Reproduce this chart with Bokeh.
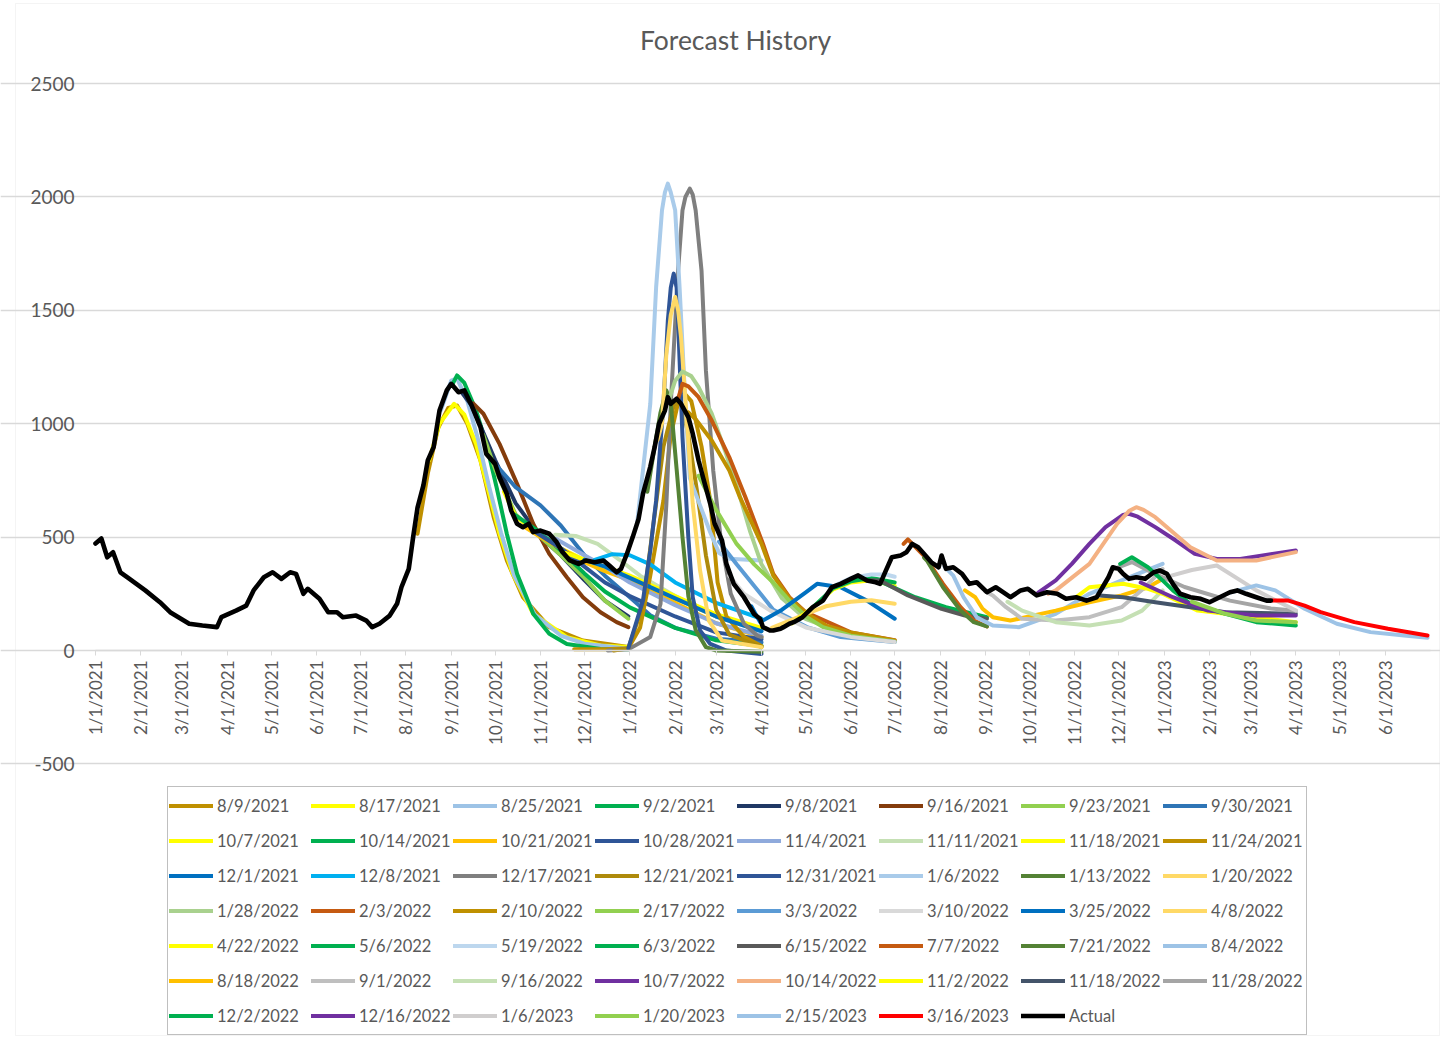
import math
import pandas as pd
from bokeh.plotting import figure
from bokeh.models import (Range1d, FixedTicker, Legend, LegendItem, LinearAxis, Grid,
                          Label, BoxAnnotation)
from bokeh.embed import file_html
from bokeh.resources import INLINE

BASE = pd.Timestamp("2021-01-01")

tick_dates = ["2021-01-01", "2021-02-01", "2021-03-01", "2021-04-01", "2021-05-01", "2021-06-01",
              "2021-07-01", "2021-08-01", "2021-09-01", "2021-10-01", "2021-11-01", "2021-12-01",
              "2022-01-01", "2022-02-01", "2022-03-01", "2022-04-01", "2022-05-01", "2022-06-01",
              "2022-07-01", "2022-08-01", "2022-09-01", "2022-10-01", "2022-11-01", "2022-12-01",
              "2023-01-01", "2023-02-01", "2023-03-01", "2023-04-01", "2023-05-01", "2023-06-01"]
tick_labels = ["1/1/2021", "2/1/2021", "3/1/2021", "4/1/2021", "5/1/2021", "6/1/2021",
               "7/1/2021", "8/1/2021", "9/1/2021", "10/1/2021", "11/1/2021", "12/1/2021",
               "1/1/2022", "2/1/2022", "3/1/2022", "4/1/2022", "5/1/2022", "6/1/2022",
               "7/1/2022", "8/1/2022", "9/1/2022", "10/1/2022", "11/1/2022", "12/1/2022",
               "1/1/2023", "2/1/2023", "3/1/2023", "4/1/2023", "5/1/2023", "6/1/2023"]
y_ticks = [-500, 0, 500, 1000, 1500, 2000, 2500]
y_tick_labels = ["-500", "0", "500", "1000", "1500", "2000", "2500"]

# ---------------- forecasts ----------------
d_210809 = ["2021-08-09", "2021-08-16", "2021-08-23", "2021-08-30", "2021-09-05", "2021-09-12", "2021-09-21",
            "2021-09-30", "2021-10-09", "2021-10-20", "2021-11-07", "2021-11-30", "2021-12-31"]
v_210809 = [515, 780, 980, 1070, 1080, 1000, 838, 588, 397, 235, 103, 44, 15]

d_210817 = ["2021-08-17", "2021-08-24", "2021-09-03", "2021-09-10", "2021-09-18", "2021-09-27", "2021-10-04",
            "2021-10-13", "2021-10-27", "2021-11-19", "2021-12-12", "2021-12-31"]
v_210817 = [840, 1000, 1088, 1040, 911, 691, 515, 338, 162, 59, 22, 15]

d_210825 = ["2021-08-25", "2021-09-01", "2021-09-05", "2021-09-12", "2021-09-19", "2021-09-27", "2021-10-05",
            "2021-10-14", "2021-10-28", "2021-11-15", "2021-12-01", "2021-12-31"]
v_210825 = [1060, 1190, 1200, 1100, 940, 720, 520, 330, 160, 65, 30, 8]

d_210902 = ["2021-09-02", "2021-09-05", "2021-09-10", "2021-09-18", "2021-09-25", "2021-10-02", "2021-10-09",
            "2021-10-16", "2021-10-27", "2021-11-07", "2021-11-19", "2021-12-12", "2021-12-31"]
v_210902 = [1176, 1213, 1180, 1058, 911, 720, 515, 338, 162, 74, 29, 7, 5]

d_210908 = ["2021-09-08", "2021-09-15", "2021-10-01", "2021-10-15", "2021-11-01", "2021-11-15", "2021-12-01",
            "2021-12-15", "2021-12-31"]
v_210908 = [1140, 1080, 840, 650, 500, 420, 310, 220, 150]

d_210916 = ["2021-09-16", "2021-09-23", "2021-10-04", "2021-10-16", "2021-10-27", "2021-11-07", "2021-11-19",
            "2021-11-30", "2021-12-12", "2021-12-23", "2021-12-31"]
v_210916 = [1090, 1044, 911, 735, 559, 426, 323, 235, 169, 125, 103]

d_210923 = ["2021-09-23", "2021-10-01", "2021-10-15", "2021-11-01", "2021-11-15", "2021-12-01", "2021-12-15",
            "2021-12-31"]
v_210923 = [950, 800, 600, 500, 420, 320, 220, 140]

d_210930 = ["2021-09-30", "2021-10-15", "2021-11-01", "2021-11-15", "2021-12-01", "2021-12-15", "2022-01-01",
            "2022-01-15", "2022-02-01", "2022-03-01", "2022-04-01"]
v_210930 = [830, 720, 640, 550, 420, 330, 235, 155, 100, 52, 36]

d_211007 = ["2021-10-07", "2021-10-15", "2021-11-01", "2021-11-15", "2021-12-01", "2021-12-15", "2022-01-01",
            "2022-02-01", "2022-03-01", "2022-04-01"]
v_211007 = [700, 590, 510, 450, 400, 360, 320, 230, 150, 95]

d_211014 = ["2021-10-14", "2021-11-01", "2021-11-15", "2021-12-01", "2021-12-15", "2022-01-01", "2022-02-01",
            "2022-03-01", "2022-04-01"]
v_211014 = [600, 520, 440, 340, 260, 190, 100, 45, 20]

d_211021 = ["2021-10-21", "2021-11-01", "2021-11-15", "2021-12-01", "2021-12-15", "2022-01-01", "2022-02-01",
            "2022-03-01", "2022-04-01"]
v_211021 = [545, 500, 450, 390, 350, 310, 210, 120, 60]

d_211028 = ["2021-10-28", "2021-11-15", "2021-12-01", "2021-12-15", "2022-01-01", "2022-02-01", "2022-03-01",
            "2022-04-01"]
v_211028 = [525, 450, 370, 300, 240, 150, 80, 50]

d_211104 = ["2021-11-04", "2021-11-15", "2021-12-01", "2021-12-15", "2022-01-01", "2022-02-01", "2022-03-01",
            "2022-04-01"]
v_211104 = [520, 480, 420, 370, 300, 200, 120, 65]

d_211111 = ["2021-11-11", "2021-11-25", "2021-12-10", "2021-12-25", "2022-01-08", "2022-02-01", "2022-03-01",
            "2022-04-01"]
v_211111 = [510, 505, 470, 400, 330, 240, 150, 85]

d_211118 = ["2021-11-18", "2021-12-01", "2021-12-15", "2022-01-01", "2022-02-01", "2022-03-01", "2022-04-01"]
v_211118 = [430, 400, 370, 330, 240, 160, 100]

d_211124 = ["2021-11-24", "2021-12-15", "2021-12-31", "2022-01-08", "2022-01-15", "2022-01-24", "2022-01-29",
            "2022-02-05", "2022-02-12", "2022-02-19", "2022-02-25", "2022-03-02", "2022-03-08", "2022-03-20",
            "2022-04-01"]
v_211124 = [5, 5, 10, 100, 330, 662, 950, 1150, 1100, 900, 660, 300, 150, 60, 20]

d_211201 = ["2021-12-01", "2021-12-15", "2022-01-01", "2022-02-01", "2022-03-01", "2022-04-01"]
v_211201 = [400, 370, 320, 230, 150, 85]

d_211208 = ["2021-12-08", "2021-12-20", "2022-01-01", "2022-01-15", "2022-02-01", "2022-03-01", "2022-04-01"]
v_211208 = [400, 425, 420, 380, 300, 210, 140]

d_211217 = ["2021-12-17", "2021-12-31", "2022-01-15", "2022-01-22", "2022-01-26", "2022-01-29", "2022-02-03",
            "2022-02-06", "2022-02-08", "2022-02-11", "2022-02-13", "2022-02-15", "2022-02-19", "2022-02-22",
            "2022-02-27", "2022-03-04", "2022-03-11", "2022-03-20", "2022-03-29", "2022-04-01"]
v_211217 = [0, 5, 60, 206, 647, 1088, 1676, 1941, 2000, 2037, 2010, 1941, 1676, 1235, 794, 500, 250, 118, 66, 59]

d_211221 = ["2021-12-21", "2021-12-31", "2022-01-10", "2022-01-17", "2022-01-24", "2022-01-31", "2022-02-05",
            "2022-02-10", "2022-02-16", "2022-02-22", "2022-03-01", "2022-03-10", "2022-04-01"]
v_211221 = [0, 10, 200, 550, 900, 1080, 1100, 950, 700, 420, 180, 70, 15]

d_211231 = ["2021-12-31", "2022-01-10", "2022-01-15", "2022-01-19", "2022-01-24", "2022-01-27", "2022-01-29",
            "2022-01-31", "2022-02-02", "2022-02-03", "2022-02-06", "2022-02-10", "2022-02-13", "2022-02-18",
            "2022-02-25", "2022-03-08", "2022-04-01"]
v_211231 = [10, 220, 441, 662, 1088, 1456, 1600, 1662, 1600, 1456, 941, 500, 235, 88, 29, 0, -15]

d_220106 = ["2022-01-06", "2022-01-15", "2022-01-19", "2022-01-23", "2022-01-25", "2022-01-27", "2022-01-29",
            "2022-02-01", "2022-02-04", "2022-02-08", "2022-02-11", "2022-02-18", "2022-02-25", "2022-03-03",
            "2022-03-10", "2022-04-01"]
v_220106 = [560, 1088, 1603, 1941, 2020, 2059, 2020, 1941, 1603, 1088, 760, 640, 520, 430, 405, 397]

d_220113 = ["2022-01-13", "2022-01-18", "2022-01-22", "2022-01-26", "2022-01-29", "2022-02-02", "2022-02-06",
            "2022-02-10", "2022-02-15", "2022-02-22", "2022-03-01", "2022-04-01"]
v_220113 = [700, 900, 1050, 1147, 1090, 800, 500, 240, 90, 15, 0, -5]

d_220120 = ["2022-01-20", "2022-01-23", "2022-01-26", "2022-01-29", "2022-02-01", "2022-02-03", "2022-02-05",
            "2022-02-09", "2022-02-13", "2022-02-18", "2022-02-24", "2022-03-05", "2022-04-01"]
v_220120 = [930, 1000, 1309, 1480, 1559, 1500, 1382, 1015, 647, 353, 132, 44, 15]

d_220128 = ["2022-01-28", "2022-02-01", "2022-02-06", "2022-02-12", "2022-02-17", "2022-02-26", "2022-03-07",
            "2022-03-16", "2022-03-24", "2022-04-01", "2022-04-15", "2022-05-01", "2022-06-01", "2022-07-01"]
v_220128 = [1110, 1190, 1230, 1210, 1161, 1044, 882, 706, 529, 380, 230, 140, 65, 38]

d_220203 = ["2022-02-03", "2022-02-06", "2022-02-10", "2022-02-17", "2022-02-26", "2022-03-10", "2022-03-21",
            "2022-04-02", "2022-04-09", "2022-04-20", "2022-05-01", "2022-06-01", "2022-07-01"]
v_220203 = [1110, 1176, 1165, 1117, 1014, 852, 676, 470, 338, 235, 170, 80, 45]

d_220210 = ["2022-02-10", "2022-02-15", "2022-02-26", "2022-03-10", "2022-03-17", "2022-04-01", "2022-04-09",
            "2022-04-20", "2022-05-02", "2022-05-15", "2022-06-01", "2022-07-01"]
v_220210 = [1050, 1020, 926, 794, 680, 470, 330, 230, 162, 110, 80, 44]

d_220217 = ["2022-02-17", "2022-03-01", "2022-03-15", "2022-03-27", "2022-04-09", "2022-04-20", "2022-05-02",
            "2022-05-13", "2022-06-01", "2022-07-01"]
v_220217 = [770, 620, 470, 380, 300, 220, 147, 103, 65, 40]

d_220303 = ["2022-03-03", "2022-03-15", "2022-04-01", "2022-04-09", "2022-05-02", "2022-05-25", "2022-07-01"]
v_220303 = [480, 380, 245, 180, 103, 59, 37]

d_220310 = ["2022-03-10", "2022-03-20", "2022-04-07", "2022-05-02", "2022-06-01", "2022-07-01"]
v_220310 = [330, 250, 176, 100, 60, 37]

d_220325 = ["2022-03-25", "2022-03-31", "2022-04-15", "2022-05-01", "2022-05-09", "2022-05-25", "2022-06-12",
            "2022-07-01"]
v_220325 = [195, 125, 180, 255, 294, 279, 220, 140]

d_220408 = ["2022-04-08", "2022-05-01", "2022-05-15", "2022-06-01", "2022-06-15", "2022-07-01"]
v_220408 = [100, 160, 195, 215, 222, 206]

d_220422 = ["2022-04-22", "2022-05-06", "2022-05-20", "2022-06-01", "2022-06-15", "2022-07-01"]
v_220422 = [120, 190, 270, 300, 310, 285]

d_220506 = ["2022-05-06", "2022-05-20", "2022-06-01", "2022-06-15", "2022-07-01"]
v_220506 = [190, 275, 305, 320, 300]

d_220519 = ["2022-05-19", "2022-06-01", "2022-06-15", "2022-06-25", "2022-07-01"]
v_220519 = [280, 320, 335, 335, 325]

d_220603 = ["2022-06-03", "2022-06-21", "2022-07-15", "2022-08-05", "2022-09-02"]
v_220603 = [320, 305, 235, 191, 147]

d_220615 = ["2022-06-15", "2022-06-21", "2022-07-10", "2022-08-02", "2022-08-18", "2022-09-02"]
v_220615 = [310, 309, 243, 184, 154, 140]

d_220707 = ["2022-07-07", "2022-07-10", "2022-07-22", "2022-08-03", "2022-08-15", "2022-08-24", "2022-09-02"]
v_220707 = [470, 490, 411, 294, 191, 132, 106]

d_220721 = ["2022-07-21", "2022-07-23", "2022-08-03", "2022-08-15", "2022-08-24", "2022-09-02"]
v_220721 = [410, 397, 279, 176, 125, 106]

d_220804 = ["2022-08-04", "2022-08-10", "2022-08-17", "2022-08-26", "2022-09-06", "2022-09-24", "2022-10-19",
            "2022-11-11", "2022-12-03", "2022-12-31"]
v_220804 = [370, 330, 235, 147, 110, 103, 162, 250, 309, 382]

d_220818 = ["2022-08-18", "2022-08-25", "2022-08-30", "2022-09-06", "2022-09-18", "2022-10-19", "2022-11-11",
            "2022-12-03", "2022-12-21", "2022-12-31"]
v_220818 = [265, 235, 184, 147, 132, 176, 213, 243, 279, 315]

d_220901 = ["2022-09-01", "2022-09-06", "2022-09-15", "2022-09-26", "2022-10-19", "2022-11-11", "2022-12-03",
            "2022-12-19", "2022-12-31"]
v_220901 = [260, 243, 191, 140, 132, 147, 191, 279, 360]

d_220916 = ["2022-09-16", "2022-09-26", "2022-10-19", "2022-11-11", "2022-12-03", "2022-12-17", "2022-12-31"]
v_220916 = [215, 176, 125, 110, 132, 176, 265]

d_221007 = ["2022-10-07", "2022-10-19", "2022-10-30", "2022-11-11", "2022-11-22", "2022-12-04", "2022-12-08",
            "2022-12-14", "2022-12-26", "2023-01-09", "2023-01-22", "2023-02-06", "2023-02-22", "2023-03-16",
            "2023-04-01"]
v_221007 = [255, 309, 382, 470, 544, 598, 603, 590, 544, 485, 426, 404, 404, 426, 441]

d_221014 = ["2022-10-14", "2022-10-19", "2022-11-11", "2022-11-30", "2022-12-08", "2022-12-13", "2022-12-18",
            "2022-12-26", "2023-01-19", "2023-02-06", "2023-03-05", "2023-04-01"]
v_221014 = [250, 265, 382, 559, 615, 632, 620, 588, 455, 397, 397, 434]

d_221102 = ["2022-11-02", "2022-11-11", "2022-12-04", "2022-12-21", "2022-12-31", "2023-01-24", "2023-04-01"]
v_221102 = [235, 279, 294, 272, 250, 176, 125]

d_221118 = ["2022-11-18", "2022-12-04", "2022-12-26", "2023-01-19", "2023-02-12", "2023-04-01"]
v_221118 = [243, 235, 213, 191, 169, 162]

d_221128 = ["2022-11-28", "2022-12-10", "2022-12-25", "2023-01-15", "2023-02-15", "2023-03-15", "2023-04-01"]
v_221128 = [360, 390, 340, 280, 220, 185, 175]

d_221202 = ["2022-12-02", "2022-12-10", "2022-12-21", "2022-12-31", "2023-01-07", "2023-01-19", "2023-02-12",
            "2023-03-05", "2023-04-01"]
v_221202 = [382, 411, 367, 309, 265, 206, 162, 125, 110]

d_221216 = ["2022-12-16", "2023-01-07", "2023-01-31", "2023-03-05", "2023-04-01"]
v_221216 = [300, 235, 176, 154, 154]

d_230106 = ["2023-01-06", "2023-01-20", "2023-02-06", "2023-03-05", "2023-04-01"]
v_230106 = [330, 355, 375, 265, 176]

d_230120 = ["2023-01-20", "2023-02-12", "2023-03-05", "2023-04-01"]
v_230120 = [215, 162, 132, 125]

d_230215 = ["2023-02-15", "2023-03-05", "2023-03-18", "2023-04-07", "2023-04-29", "2023-05-22", "2023-06-14",
            "2023-06-30"]
v_230215 = [255, 287, 265, 184, 118, 81, 66, 56]

d_230316 = ["2023-03-16", "2023-03-27", "2023-04-07", "2023-04-18", "2023-05-11", "2023-06-03", "2023-06-30"]
v_230316 = [220, 220, 198, 169, 125, 96, 66]

# ---------------- actual ----------------
d_actual = ["2021-01-01", "2021-01-05", "2021-01-09", "2021-01-13", "2021-01-18", "2021-01-24", "2021-02-04",
            "2021-02-14", "2021-02-21", "2021-03-06", "2021-03-15", "2021-03-25", "2021-03-28", "2021-04-07",
            "2021-04-14", "2021-04-19", "2021-04-26", "2021-05-02", "2021-05-08", "2021-05-14", "2021-05-18",
            "2021-05-23", "2021-05-26", "2021-06-03", "2021-06-09", "2021-06-15", "2021-06-19", "2021-06-28",
            "2021-07-05", "2021-07-09", "2021-07-14", "2021-07-21", "2021-07-26", "2021-07-29", "2021-08-03",
            "2021-08-06", "2021-08-09", "2021-08-13", "2021-08-16", "2021-08-20", "2021-08-24", "2021-08-29",
            "2021-09-01", "2021-09-06", "2021-09-10", "2021-09-15", "2021-09-21", "2021-09-25", "2021-10-01",
            "2021-10-04", "2021-10-09", "2021-10-12", "2021-10-16", "2021-10-20", "2021-10-24", "2021-10-27",
            "2021-11-01", "2021-11-07", "2021-11-12", "2021-11-16", "2021-11-21", "2021-11-27", "2021-12-02",
            "2021-12-08", "2021-12-14", "2021-12-18", "2021-12-23", "2021-12-26", "2021-12-30", "2022-01-03",
            "2022-01-07", "2022-01-10", "2022-01-15", "2022-01-18", "2022-01-21", "2022-01-25", "2022-01-27",
            "2022-01-29", "2022-02-02", "2022-02-05", "2022-02-10", "2022-02-13", "2022-02-17", "2022-02-20",
            "2022-02-25", "2022-02-28", "2022-03-05", "2022-03-08", "2022-03-13", "2022-03-20", "2022-03-27",
            "2022-03-31", "2022-04-02", "2022-04-07", "2022-04-09", "2022-04-14", "2022-04-16", "2022-04-20",
            "2022-04-23", "2022-04-29", "2022-05-06", "2022-05-13", "2022-05-19", "2022-05-25", "2022-06-01",
            "2022-06-06", "2022-06-12", "2022-06-18", "2022-06-21", "2022-06-25", "2022-06-29", "2022-07-05",
            "2022-07-09", "2022-07-13", "2022-07-17", "2022-07-22", "2022-07-26", "2022-07-31", "2022-08-02",
            "2022-08-05", "2022-08-10", "2022-08-16", "2022-08-21", "2022-08-26", "2022-09-02", "2022-09-08",
            "2022-09-13", "2022-09-18", "2022-09-25", "2022-09-30", "2022-10-06", "2022-10-13", "2022-10-20",
            "2022-10-26", "2022-11-02", "2022-11-09", "2022-11-16", "2022-11-20", "2022-11-24", "2022-11-27",
            "2022-12-01", "2022-12-04", "2022-12-08", "2022-12-13", "2022-12-19", "2022-12-25", "2022-12-29",
            "2023-01-03", "2023-01-07", "2023-01-12", "2023-01-19", "2023-01-26", "2023-02-01", "2023-02-08",
            "2023-02-15", "2023-02-20", "2023-02-26", "2023-03-05", "2023-03-12", "2023-03-15"]
v_actual = [472, 494, 411, 433, 345, 317, 265,
            213, 169, 118, 110, 103, 147, 176,
            198, 265, 323, 345, 316, 345, 338,
            250, 272, 228, 169, 169, 147, 154,
            132, 103, 118, 154, 206, 279, 360,
            500, 630, 728, 838, 897, 1058, 1147,
            1176, 1139, 1147, 1080, 985, 867, 823,
            764, 691, 617, 559, 544, 559, 522,
            529, 515, 478, 434, 397, 382, 397,
            389, 397, 375, 345, 360, 426, 500,
            580, 691, 810, 897, 1000, 1058, 1117,
            1088, 1110, 1088, 1029, 956, 838, 764,
            647, 559, 485, 382, 294, 235, 160,
            140, 103, 88, 88, 96, 103, 118,
            125, 147, 191, 220, 279, 294, 316,
            331, 309, 301, 294, 353, 411, 419,
            433, 470, 455, 419, 389, 367, 419,
            360, 367, 338, 294, 301, 257, 279,
            257, 235, 265, 272, 243, 257, 250,
            228, 235, 220, 235, 279, 323, 367,
            360, 338, 316, 323, 316, 345, 353,
            338, 294, 250, 235, 228, 213, 235,
            257, 265, 250, 235, 220, 220]

series_names = ["8/9/2021", "8/17/2021", "8/25/2021", "9/2/2021", "9/8/2021", "9/16/2021", "9/23/2021", "9/30/2021",
                "10/7/2021", "10/14/2021", "10/21/2021", "10/28/2021", "11/4/2021", "11/11/2021", "11/18/2021", "11/24/2021",
                "12/1/2021", "12/8/2021", "12/17/2021", "12/21/2021", "12/31/2021", "1/6/2022", "1/13/2022", "1/20/2022",
                "1/28/2022", "2/3/2022", "2/10/2022", "2/17/2022", "3/3/2022", "3/10/2022", "3/25/2022", "4/8/2022",
                "4/22/2022", "5/6/2022", "5/19/2022", "6/3/2022", "6/15/2022", "7/7/2022", "7/21/2022", "8/4/2022",
                "8/18/2022", "9/1/2022", "9/16/2022", "10/7/2022", "10/14/2022", "11/2/2022", "11/18/2022", "11/28/2022",
                "12/2/2022", "12/16/2022", "1/6/2023", "1/20/2023", "2/15/2023", "3/16/2023", "Actual"]
series_dates = [d_210809, d_210817, d_210825, d_210902, d_210908, d_210916, d_210923, d_210930,
                d_211007, d_211014, d_211021, d_211028, d_211104, d_211111, d_211118, d_211124,
                d_211201, d_211208, d_211217, d_211221, d_211231, d_220106, d_220113, d_220120,
                d_220128, d_220203, d_220210, d_220217, d_220303, d_220310, d_220325, d_220408,
                d_220422, d_220506, d_220519, d_220603, d_220615, d_220707, d_220721, d_220804,
                d_220818, d_220901, d_220916, d_221007, d_221014, d_221102, d_221118, d_221128,
                d_221202, d_221216, d_230106, d_230120, d_230215, d_230316, d_actual]
series_values = [v_210809, v_210817, v_210825, v_210902, v_210908, v_210916, v_210923, v_210930,
                 v_211007, v_211014, v_211021, v_211028, v_211104, v_211111, v_211118, v_211124,
                 v_211201, v_211208, v_211217, v_211221, v_211231, v_220106, v_220113, v_220120,
                 v_220128, v_220203, v_220210, v_220217, v_220303, v_220310, v_220325, v_220408,
                 v_220422, v_220506, v_220519, v_220603, v_220615, v_220707, v_220721, v_220804,
                 v_220818, v_220901, v_220916, v_221007, v_221014, v_221102, v_221118, v_221128,
                 v_221202, v_221216, v_230106, v_230120, v_230215, v_230316, v_actual]
series_colors = ["#BF9000", "#FFFF00", "#9DC3E6", "#00B050", "#203864", "#843C0C", "#92D050", "#2E75B6",
                 "#FFFF00", "#00B050", "#FFC000", "#2F5597", "#8FAADC", "#C5E0B4", "#FFFF00", "#BF9000",
                 "#0070C0", "#00B0F0", "#7F7F7F", "#AE8A0B", "#2F5597", "#A9CBEA", "#548235", "#FFD966",
                 "#A9D18E", "#C55A11", "#BF9000", "#92D050", "#5B9BD5", "#D9D9D9", "#0070C0", "#FFD966",
                 "#FFFF00", "#00B050", "#BDD7EE", "#00B050", "#595959", "#C55A11", "#548235", "#9DC3E6",
                 "#FFC000", "#BFBFBF", "#C5E0B4", "#7030A0", "#F4B183", "#FFFF00", "#44546A", "#A5A5A5",
                 "#00B050", "#7030A0", "#D0CECE", "#92D050", "#9DC3E6", "#FF0000", "#000000"]


def to_days(dates):
    return [(pd.Timestamp(d) - BASE).days for d in dates]


# ---- layout: the frame fills the whole canvas; pixel <-> data mapping ----
W, H = 1440, 1036
X0_PX, PX_PER_DAY = 95.0, 1.4638      # x pixel of 1/1/2021, pixels per day
Y0_PX, PX_PER_UNIT = 650.0, 0.22677   # y pixel of value 0, pixels per unit


def px_to_day(px):
    return (px - X0_PX) / PX_PER_DAY


def py_to_val(py):
    return (Y0_PX - py) / PX_PER_UNIT


FONT = "Lato"
TXT = "#595959"
X_END = 912

p = figure(width=W, height=H, output_backend="svg", toolbar_location=None,
           x_range=Range1d(px_to_day(0), px_to_day(W)),
           y_range=Range1d(py_to_val(H), py_to_val(0)),
           x_axis_type=None, y_axis_type=None, min_border=0)
p.outline_line_color = None
p.title.text = ""
p.title.visible = False
p.background_fill_color = "white"
p.border_fill_color = "white"

# chart-area border
p.add_layout(BoxAnnotation(left=px_to_day(15), right=px_to_day(1439), top=py_to_val(3),
                           bottom=py_to_val(1035), fill_alpha=0, line_color="#D9D9D9", line_width=1))

# horizontal gridlines
p.add_layout(Grid(dimension=1, ticker=FixedTicker(ticks=y_ticks), bounds=(0, X_END),
                  grid_line_color="#D9D9D9", grid_line_width=1.3))

# y axis (labels only)
yax = LinearAxis(fixed_location=0, ticker=FixedTicker(ticks=y_ticks))
yax.major_label_overrides = {t: lab for t, lab in zip(y_ticks, y_tick_labels)}
yax.axis_line_color = None
yax.major_tick_line_color = None
yax.major_tick_in = 0
yax.major_tick_out = 0
yax.minor_tick_line_color = None
yax.major_label_standoff = 21
yax.major_label_text_font = FONT
yax.major_label_text_font_size = "19px"
yax.major_label_text_color = TXT
p.add_layout(yax, "left")

# x axis crossing at 0
tick_x = to_days(tick_dates)
xax = LinearAxis(fixed_location=0, ticker=FixedTicker(ticks=tick_x), bounds=(0, X_END))
xax.major_label_overrides = {tx: lab for tx, lab in zip(tick_x, tick_labels)}
xax.major_label_orientation = math.pi / 2
xax.axis_line_color = "#D9D9D9"
xax.axis_line_width = 1.5
xax.major_tick_line_color = "#D9D9D9"
xax.major_tick_in = 0
xax.major_tick_out = 5
xax.minor_tick_line_color = None
xax.major_label_standoff = 5
xax.major_label_text_font = FONT
xax.major_label_text_font_size = "17px"
xax.major_label_text_color = TXT
p.add_layout(xax, "below")

# title
p.add_layout(Label(x=px_to_day(735), y=py_to_val(39), text="Forecast History",
                   text_align="center", text_baseline="middle", text_font=FONT,
                   text_font_size="26.5px", text_color=TXT))

items = []
for name, ds, vs, col in zip(series_names, series_dates, series_values, series_colors):
    w = 4.6 if name == "Actual" else 4.0
    r = p.line(x=to_days(ds), y=vs, line_color=col, line_width=w,
               line_join="round", line_cap="round")
    items.append(LegendItem(label=name, renderers=[r]))

legend = Legend(items=items, ncols=8, orientation="horizontal", location=(167, 1), margin=0,
                padding=1, spacing=0, glyph_width=44, glyph_height=35, label_height=35,
                label_width=94, label_standoff=4,
                label_text_font=FONT, label_text_font_size="16.5px", label_text_color=TXT,
                border_line_color="#7F7F7F", border_line_width=1.5,
                background_fill_color="white", background_fill_alpha=1.0)
p.add_layout(legend)

open("out.html", "w").write(file_html(p, INLINE))
